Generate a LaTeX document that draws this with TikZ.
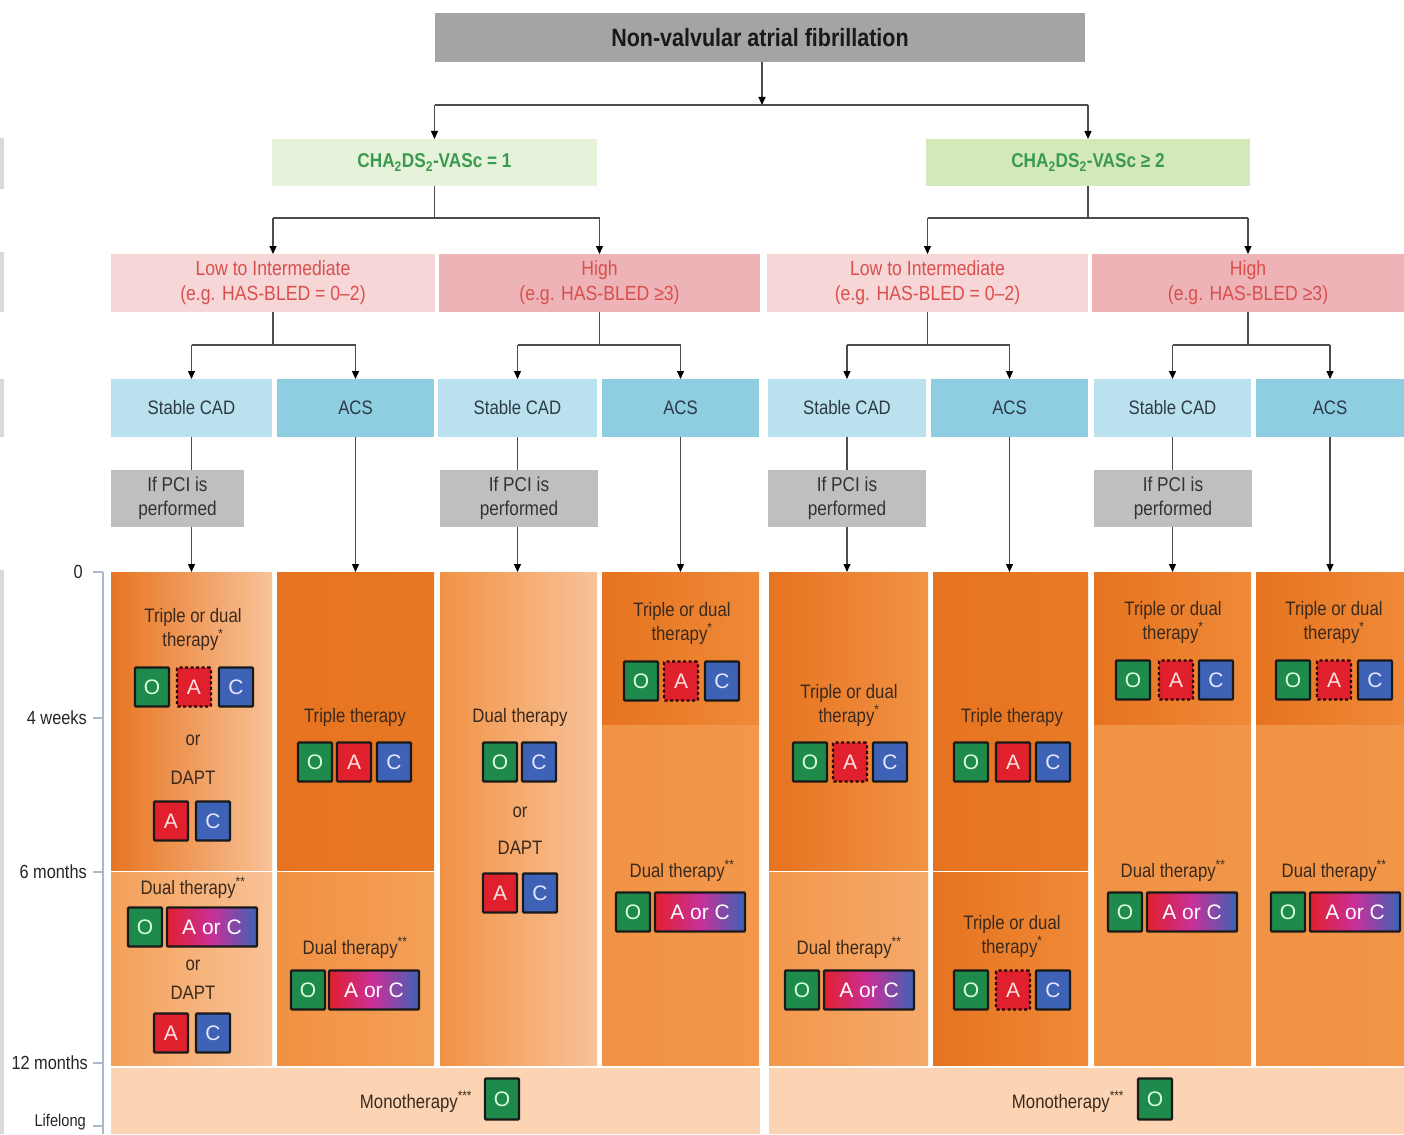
\documentclass[tikz,border=0pt]{standalone}
\usepackage{fontspec}
\setmainfont{Liberation Sans}[FakeStretch=0.86]
\newfontfamily\pillfont{Liberation Sans}
\usetikzlibrary{arrows.meta,backgrounds}
\definecolor{titlegray}{HTML}{A4A4A4}
\definecolor{gA}{HTML}{E6F2DA}
\definecolor{gB}{HTML}{D3E9BA}
\definecolor{gtxt}{HTML}{3A9A4E}
\definecolor{pkA}{HTML}{F6D6D6}
\definecolor{pkB}{HTML}{EDB3B6}
\definecolor{pktxt}{HTML}{D9504E}
\definecolor{blA}{HTML}{BCE1EE}
\definecolor{blB}{HTML}{8FCEE1}
\definecolor{bltxt}{HTML}{2C3A48}
\definecolor{pcigray}{HTML}{BFBFBF}
\definecolor{ctxt}{HTML}{3A2A1E}
\definecolor{oD}{HTML}{E6731F}
\definecolor{oM}{HTML}{EF8A38}
\definecolor{oL}{HTML}{F4A058}
\definecolor{oXL}{HTML}{F8C298}
\definecolor{peach}{HTML}{FCD4B4}
\definecolor{pillG}{HTML}{1E8A4C}
\definecolor{pillR}{HTML}{E1202E}
\definecolor{pillB}{HTML}{3E63B6}
\definecolor{axisc}{HTML}{A9B9C9}
\definecolor{HTMLmag}{HTML}{C8309A}
\tikzset{
  box/.style={inner sep=0pt, outer sep=0pt, align=center},
  seg/.style={inner sep=0pt, outer sep=0pt, anchor=north west},
  ctext/.style={align=center, text=ctxt, font=\fontsize{19.5}{24}\selectfont, inner sep=0pt},
  pillbase/.style={draw=black!90, line width=2.2pt, rounded corners=1pt, minimum width=34pt, minimum height=39pt, inner sep=0pt, font=\pillfont\fontsize{21}{22}\selectfont},
  pO/.style={pillbase, fill=pillG, text=green!15!white},
  pA/.style={pillbase, fill=pillR, text=red!12!white},
  pAd/.style={pillbase, fill=pillR, text=red!12!white, draw=black!85!red, dash pattern=on 3pt off 2.5pt},
  pC/.style={pillbase, fill=pillB, text=blue!10!white},
  pAC/.style={pillbase, minimum width=90pt, left color=pillR, right color=pillB, middle color=HTMLmag, text=white},
  ln/.style={draw=black!70, line width=1.2pt},
  arr/.style={draw=black!70, line width=1.2pt, -{Triangle[length=8pt,width=7pt,color=black]}},
  axl/.style={anchor=east, text=black!85, font=\fontsize{19}{20}\selectfont, inner sep=0pt},
}
\newcommand\rowOAC[5]{%
  \node[pO] (#1o) at (#2,#5) {O};
  \node[pA] (#1a) at (#3,#5) {A};
  \node[pC] (#1c) at (#4,#5) {C};}
\newcommand\rowOAdC[5]{%
  \node[pO] (#1o) at (#2,#5) {O};
  \node[pAd] (#1a) at (#3,#5) {A};
  \node[pC] (#1c) at (#4,#5) {C};}
\newcommand\branchto[4]{%
  \draw[ln] (#1.south) -- (#1.south |- #2);
  \draw[ln] (#3.north |- #2) -- (#4.north |- #2);
  \draw[arr] (#3.north |- #2) -- (#3.north);
  \draw[arr] (#4.north |- #2) -- (#4.north);}
\begin{document}
\begin{tikzpicture}[x=1pt,y=-1pt]
\useasboundingbox (0,0) rectangle (1404,1134);
% left edge cropped strips
\fill[black!15] (0,138) rectangle (4,189);
\fill[black!15] (0,252) rectangle (4,312);
\fill[black!15] (0,379) rectangle (4,437);
\fill[black!15] (0,570) rectangle (4,1134);
% title
\node[box, fill=titlegray, minimum width=650pt, minimum height=49pt, font=\bfseries\fontsize{25}{28}\selectfont, text=black!90] (title) at (760,37.5) {Non-valvular atrial fibrillation};
% green
\node[box, fill=gA, minimum width=325pt, minimum height=47pt, text=gtxt, font=\bfseries\fontsize{20}{22}\selectfont] (g1) at (434.5,162.5) {CHA\textsubscript{2}DS\textsubscript{2}-VASc = 1};
\node[box, fill=gB, minimum width=324pt, minimum height=47pt, text=gtxt, font=\bfseries\fontsize{20}{22}\selectfont] (g2) at (1088,162.5) {CHA\textsubscript{2}DS\textsubscript{2}-VASc ≥ 2};
% pink
\tikzset{pk/.style={box, minimum height=58pt, text=pktxt, font=\fontsize{20.5}{25}\selectfont}}
\node[pk, fill=pkA, minimum width=324pt] (pk1) at (273,283) {Low to Intermediate\\(e.g. HAS-BLED = 0–2)};
\node[pk, fill=pkB, minimum width=321pt] (pk2) at (599.5,283) {High\\(e.g. HAS-BLED ≥3)};
\node[pk, fill=pkA, minimum width=321pt] (pk3) at (927.5,283) {Low to Intermediate\\(e.g. HAS-BLED = 0–2)};
\node[pk, fill=pkB, minimum width=312pt] (pk4) at (1248,283) {High\\(e.g. HAS-BLED ≥3)};
% blue
\tikzset{bl/.style={box, minimum height=58pt, text=bltxt, font=\fontsize{19.5}{22}\selectfont}}
\node[bl, fill=blA, minimum width=161pt] (sc1) at (191.5,408) {Stable CAD};
\node[bl, fill=blB, minimum width=157pt] (acs1) at (355.5,408) {ACS};
\node[bl, fill=blA, minimum width=159pt] (sc2) at (517.5,408) {Stable CAD};
\node[bl, fill=blB, minimum width=157pt] (acs2) at (680.5,408) {ACS};
\node[bl, fill=blA, minimum width=158pt] (sc3) at (847,408) {Stable CAD};
\node[bl, fill=blB, minimum width=157pt] (acs3) at (1009.5,408) {ACS};
\node[bl, fill=blA, minimum width=157pt] (sc4) at (1172.5,408) {Stable CAD};
\node[bl, fill=blB, minimum width=148pt] (acs4) at (1330,408) {ACS};
% PCI
\tikzset{pci/.style={box, fill=pcigray, minimum height=57pt, text=black!80, font=\fontsize{20}{24}\selectfont}}
\node[pci, minimum width=133pt] (pci1) at (177.5,498.5) {If PCI is\\performed};
\node[pci, minimum width=158pt] (pci2) at (519,498.5) {If PCI is\\performed};
\node[pci, minimum width=158pt] (pci3) at (847,498.5) {If PCI is\\performed};
\node[pci, minimum width=158pt] (pci4) at (1173,498.5) {If PCI is\\performed};
% chart segments
\node[seg, minimum width=161pt, minimum height=298pt, left color=oD!90!oM, right color=oXL] (c1t) at (111,572) {};
\node[seg, minimum width=161pt, minimum height=193pt, left color=oL, right color=oXL] (c1b) at (111,872) {};
\node[seg, minimum width=157pt, minimum height=298pt, left color=oD, right color=oD!80!oM] (c2t) at (277,572) {};
\node[seg, minimum width=157pt, minimum height=193pt, left color=oM!70!oL, right color=oL] (c2b) at (277,872) {};
\node[seg, minimum width=157pt, minimum height=493pt, left color=oM!60!oL, right color=oXL] (c3) at (440,572) {};
\node[seg, minimum width=157pt, minimum height=152pt, left color=oD, right color=oM] (c4t) at (602,572) {};
\node[seg, minimum width=157pt, minimum height=340pt, left color=oM!60!oL, right color=oM!40!oL] (c4b) at (602,725) {};
\node[seg, minimum width=159pt, minimum height=298pt, left color=oD, right color=oM!60!oL] (c5t) at (769,572) {};
\node[seg, minimum width=159pt, minimum height=193pt, left color=oM!40!oL, right color=oL!70!oXL] (c5b) at (769,872) {};
\node[seg, minimum width=155pt, minimum height=298pt, left color=oD, right color=oD!70!oM] (c6t) at (933,572) {};
\node[seg, minimum width=155pt, minimum height=193pt, left color=oD, right color=oM] (c6b) at (933,872) {};
\node[seg, minimum width=157pt, minimum height=152pt, left color=oD, right color=oM] (c7t) at (1094,572) {};
\node[seg, minimum width=157pt, minimum height=340pt, left color=oM!60!oL, right color=oM!50!oL] (c7b) at (1094,725) {};
\node[seg, minimum width=148pt, minimum height=152pt, left color=oD, right color=oM] (c8t) at (1256,572) {};
\node[seg, minimum width=148pt, minimum height=340pt, left color=oM!60!oL, right color=oM!50!oL] (c8b) at (1256,725) {};
\node[seg, minimum width=649pt, minimum height=66pt, fill=peach] (mono1) at (111,1068) {};
\node[seg, minimum width=635pt, minimum height=66pt, fill=peach] (mono2) at (769,1068) {};
% axis
\coordinate (axtop) at (103,572);
\coordinate (axbot) at (103,1134);
\draw[axisc, line width=1.2pt] (axtop) -- (axbot);
\foreach \yy/\nm in {572/a0,718/a1,872/a2,1063/a3,1126/a4}{
  \coordinate (\nm t) at (93,\yy);
  \draw[axisc, line width=1.2pt] (\nm t) -- (\nm t -| axtop);
}
\node[axl] (l0) at (83,572) {0};
\node[axl] (l1) at (87,718) {4 weeks};
\node[axl] (l2) at (87,872) {6 months};
\node[axl] (l3) at (88,1063) {12 months};
\node[axl, font=\fontsize{17}{18}\selectfont] (l4) at (86,1122) {Lifelong};
% column 1
\node[ctext] (t11) at (193,629) {Triple or dual\\therapy\textsuperscript{*}};
\rowOAdC{r11}{152}{194}{236}{687}
\node[ctext] (t12) at (193,740) {or};
\node[ctext] (t13) at (193,778) {DAPT};
\node[pA] (r12a) at (171,821) {A};
\node[pC] (r12c) at (213,821) {C};
\node[ctext] (t14) at (193,888) {Dual therapy\textsuperscript{**}};
\node[pO] (r13o) at (145,927) {O};
\node[pAC] (r13ac) at (212,927) {A or C};
\node[ctext] (t15) at (193,965) {or};
\node[ctext] (t16) at (193,993) {DAPT};
\node[pA] (r14a) at (171,1033) {A};
\node[pC] (r14c) at (213,1033) {C};
% column 2
\node[ctext] (t21) at (355,717) {Triple therapy};
\rowOAC{r21}{315}{354}{394}{762}
\node[ctext] (t22) at (355,948) {Dual therapy\textsuperscript{**}};
\node[pO] (r22o) at (308,990) {O};
\node[pAC] (r22ac) at (374,990) {A or C};
% column 3
\node[ctext] (t31) at (520,717) {Dual therapy};
\node[pO] (r31o) at (500,762) {O};
\node[pC] (r31c) at (539,762) {C};
\node[ctext] (t32) at (520,812) {or};
\node[ctext] (t33) at (520,848) {DAPT};
\node[pA] (r32a) at (500,893) {A};
\node[pC] (r32c) at (540,893) {C};
% column 4
\node[ctext] (t41) at (682,623) {Triple or dual\\therapy\textsuperscript{*}};
\rowOAdC{r41}{641}{681}{722}{681}
\node[ctext] (t42) at (682,871) {Dual therapy\textsuperscript{**}};
\node[pO] (r42o) at (633,912) {O};
\node[pAC] (r42ac) at (700,912) {A or C};
% column 5
\node[ctext] (t51) at (849,705) {Triple or dual\\therapy\textsuperscript{*}};
\rowOAdC{r51}{810}{850}{890}{762}
\node[ctext] (t52) at (849,948) {Dual therapy\textsuperscript{**}};
\node[pO] (r52o) at (802,990) {O};
\node[pAC] (r52ac) at (869,990) {A or C};
% column 6
\node[ctext] (t61) at (1012,717) {Triple therapy};
\rowOAC{r61}{971}{1013}{1053}{762}
\node[ctext] (t62) at (1012,936) {Triple or dual\\therapy\textsuperscript{*}};
\rowOAdC{r62}{971}{1013}{1053}{990}
% column 7
\node[ctext] (t71) at (1173,622) {Triple or dual\\therapy\textsuperscript{*}};
\rowOAdC{r71}{1133}{1176}{1216}{680}
\node[ctext] (t72) at (1173,871) {Dual therapy\textsuperscript{**}};
\node[pO] (r72o) at (1125,912) {O};
\node[pAC] (r72ac) at (1192,912) {A or C};
% column 8
\node[ctext] (t81) at (1334,622) {Triple or dual\\therapy\textsuperscript{*}};
\rowOAdC{r81}{1293}{1334}{1375}{680}
\node[ctext] (t82) at (1334,871) {Dual therapy\textsuperscript{**}};
\node[pO] (r82o) at (1288,912) {O};
\node[pAC] (r82ac) at (1355,912) {A or C};
% monotherapy
\node[ctext] (m1) at (416,1102) {Monotherapy\textsuperscript{***}};
\node[pO, minimum height=41pt] (m1o) at (502,1099) {O};
\node[ctext] (m2) at (1068,1102) {Monotherapy\textsuperscript{***}};
\node[pO, minimum height=41pt] (m2o) at (1155,1099) {O};
% connectors
\begin{pgfonlayer}{background}
\fill[white] (0,0) rectangle (1404,1134);
\coordinate (j0) at (762,105);
\draw[arr] (title.south -| j0) -- (j0);
\draw[ln] (g1.north |- j0) -- (g2.north |- j0);
\draw[arr] (g1.north |- j0) -- (g1.north);
\draw[arr] (g2.north |- j0) -- (g2.north);
\coordinate (jg) at (0,218);
\branchto{g1}{jg}{pk1}{pk2}
\branchto{g2}{jg}{pk3}{pk4}
\coordinate (jp) at (0,345);
\branchto{pk1}{jp}{sc1}{acs1}
\branchto{pk2}{jp}{sc2}{acs2}
\branchto{pk3}{jp}{sc3}{acs3}
\branchto{pk4}{jp}{sc4}{acs4}
\draw[ln] (sc1.south) -- (sc1.south |- pci1.north);
\draw[arr] (sc1.south |- pci1.south) -- (sc1.south |- c1t.north);
\draw[ln] (sc2.south) -- (sc2.south |- pci2.north);
\draw[arr] (sc2.south |- pci2.south) -- (sc2.south |- c3.north);
\draw[ln] (sc3.south) -- (sc3.south |- pci3.north);
\draw[arr] (sc3.south |- pci3.south) -- (sc3.south |- c5t.north);
\draw[ln] (sc4.south) -- (sc4.south |- pci4.north);
\draw[arr] (sc4.south |- pci4.south) -- (sc4.south |- c7t.north);
\draw[arr] (acs1.south) -- (acs1.south |- c2t.north);
\draw[arr] (acs2.south) -- (acs2.south |- c4t.north);
\draw[arr] (acs3.south) -- (acs3.south |- c6t.north);
\draw[arr] (acs4.south) -- (acs4.south |- c8t.north);
\end{pgfonlayer}
\end{tikzpicture}
\end{document}
